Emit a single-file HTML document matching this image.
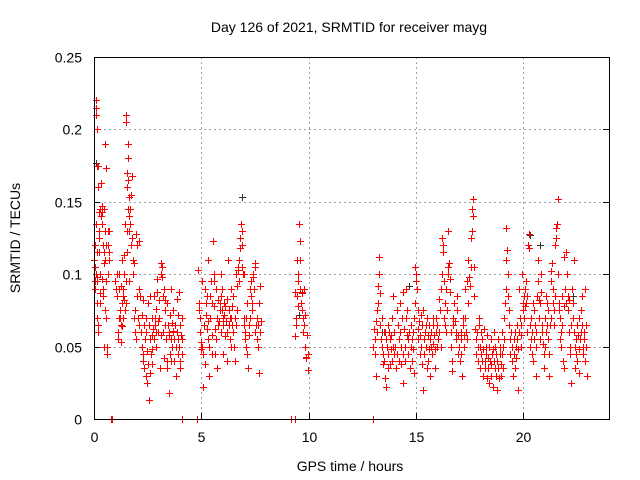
<!DOCTYPE html>
<html><head><meta charset="utf-8"><style>
body{margin:0;background:#fff}
svg{display:block;font-family:"Liberation Sans",sans-serif}
</style></head><body>
<svg id="chart" width="640" height="480" viewBox="0 0 640 480" shape-rendering="crispEdges">
<rect width="640" height="480" fill="#fff"/>
<text x="349" y="32" font-size="14" text-anchor="middle" fill="#000" shape-rendering="auto">Day 126 of 2021, SRMTID for receiver mayg</text>
<text x="20" y="238" font-size="14" text-anchor="middle" transform="rotate(-90 20 238)">SRMTID / TECUs</text>
<text x="350" y="471" font-size="14" text-anchor="middle">GPS time / hours</text>
<g id="grid"></g>
<g id="ticks"></g>
<g id="marks"></g>
<rect x="94.5" y="57.5" width="515" height="362" fill="none" stroke="#000" stroke-width="1"/>
</svg>
<script>
const xTicks=[0,5,10,15,20];
const yTicks=[0,0.05,0.1,0.15,0.2,0.25];
const yTickLabels=["0","0.05","0.1","0.15","0.2","0.25"];
const redA=[[0.02,0.11],[0.03,0.095],[0.04,0.12],[0.05,0.09],[0.06,0.105],[0.07,0.135],[0.08,0.1],[0.1,0.22],[0.1,0.215],[0.11,0.21],[0.12,0.2],[0.12,0.175],[0.13,0.115],[0.14,0.095],[0.15,0.098],[0.16,0.07],[0.17,0.065],[0.18,0.06],[0.2,0.16],[0.2,0.175],[0.22,0.143],[0.23,0.13],[0.25,0.125],[0.27,0.1],[0.28,0.087],[0.3,0.08],[0.3,0.145],[0.32,0.14],[0.33,0.163],[0.35,0.147],[0.37,0.135],[0.38,0.143],[0.4,0.12],[0.42,0.09],[0.43,0.085],[0.45,0.108],[0.47,0.115],[0.48,0.145],[0.5,0.13],[0.5,0.19],[0.52,0.11],[0.53,0.075],[0.55,0.07],[0.55,0.173],[0.57,0.12],[0.58,0.095],[0.6,0.05],[0.62,0.045],[0.63,0.13],[0.65,0.12],[0.66,0.1],[0.68,0.11],[0.7,0.115],[0.72,0.13],[0.25,0.115],[0.35,0.097],[0.15,0.08],[0.45,0.05]];
const redB=[[1.0,0.095],[1.02,0.09],[1.05,0.1],[1.08,0.085],[1.1,0.06],[1.12,0.055],[1.15,0.09],[1.18,0.1],[1.2,0.075],[1.22,0.07],[1.25,0.065],[1.28,0.053],[1.3,0.11],[1.32,0.08],[1.35,0.09],[1.37,0.085],[1.4,0.113],[1.42,0.1],[1.45,0.075],[1.45,0.135],[1.48,0.08],[1.5,0.21],[1.5,0.205],[1.52,0.115],[1.53,0.13],[1.55,0.16],[1.55,0.17],[1.57,0.19],[1.58,0.18],[1.6,0.165],[1.6,0.145],[1.62,0.095],[1.63,0.14],[1.65,0.13],[1.65,0.153],[1.68,0.145],[1.7,0.135],[1.72,0.12],[1.72,0.155],[1.75,0.125],[1.78,0.168],[1.8,0.11],[1.82,0.1],[1.85,0.07],[1.88,0.108],[1.9,0.075],[1.92,0.06],[1.95,0.055],[1.98,0.128],[2.0,0.12],[2.02,0.085],[2.05,0.07],[2.08,0.09],[2.1,0.123],[2.12,0.065],[2.15,0.085],[1.25,0.092],[1.35,0.07],[1.4,0.082],[1.5,0.095],[1.15,0.07],[1.3,0.064]];
const redC=[[2.2,0.06],[2.22,0.05],[2.25,0.072],[2.28,0.045],[2.3,0.04],[2.32,0.065],[2.35,0.035],[2.38,0.055],[2.4,0.03],[2.42,0.06],[2.45,0.025],[2.48,0.047],[2.5,0.08],[2.52,0.038],[2.55,0.013],[2.57,0.065],[2.6,0.032],[2.62,0.055],[2.65,0.045],[2.68,0.07],[2.7,0.058],[2.72,0.038],[2.75,0.062],[2.78,0.085],[2.8,0.055],[2.82,0.07],[2.85,0.065],[2.88,0.076],[2.9,0.05],[2.92,0.097],[2.95,0.088],[2.98,0.068],[3.0,0.06],[3.02,0.082],[3.05,0.07],[3.08,0.035],[3.1,0.1],[3.12,0.108],[3.15,0.105],[3.18,0.098],[3.2,0.085],[3.22,0.06],[3.25,0.042],[3.28,0.09],[3.3,0.075],[3.32,0.065],[3.35,0.055],[3.38,0.04],[3.4,0.035],[3.42,0.08],[3.45,0.065],[3.48,0.018],[3.5,0.058],[3.52,0.072],[3.55,0.045],[3.58,0.055],[3.6,0.09],[3.62,0.066],[3.65,0.05],[3.68,0.061],[3.7,0.075],[3.72,0.04],[3.75,0.055],[3.78,0.065],[3.8,0.05],[3.82,0.03],[3.85,0.083],[3.88,0.06],[3.9,0.045],[3.92,0.055],[3.95,0.088],[3.98,0.05],[4.0,0.065],[4.02,0.04],[4.05,0.058],[4.08,0.07],[4.1,0.045],[4.12,0.055],[2.4,0.07],[2.6,0.085],[2.9,0.06],[3.1,0.058],[3.3,0.082],[3.6,0.04],[3.9,0.072],[2.3,0.082],[2.7,0.048],[3.5,0.06],[3.7,0.06],[4.0,0.035]];
const redD=[[4.85,0.103],[4.88,0.08],[4.9,0.075],[4.92,0.07],[4.95,0.06],[4.98,0.053],[5.0,0.048],[5.02,0.095],[5.05,0.05],[5.08,0.045],[5.1,0.022],[5.12,0.065],[5.15,0.038],[5.18,0.09],[5.2,0.08],[5.22,0.072],[5.25,0.062],[5.28,0.085],[5.3,0.11],[5.32,0.068],[5.35,0.05],[5.38,0.03],[5.4,0.085],[5.42,0.07],[5.45,0.095],[5.48,0.058],[5.5,0.045],[5.52,0.08],[5.55,0.123],[5.58,0.1],[5.6,0.078],[5.62,0.062],[5.65,0.045],[5.68,0.055],[5.7,0.09],[5.72,0.035],[5.75,0.07],[5.78,0.082],[5.8,0.065],[5.82,0.068],[5.85,0.075],[5.88,0.08],[5.9,0.06],[5.92,0.085],[5.95,0.075],[5.98,0.09],[6.0,0.07],[6.02,0.065],[6.05,0.08],[6.08,0.072],[6.1,0.057],[6.12,0.078],[6.15,0.068],[6.18,0.06],[6.2,0.083],[6.22,0.04],[6.25,0.11],[6.28,0.075],[6.3,0.065],[6.32,0.07],[6.35,0.055],[6.38,0.05],[6.4,0.07],[6.42,0.078],[6.45,0.065],[6.48,0.06],[6.5,0.085],[6.52,0.05],[6.55,0.07],[6.58,0.04],[6.6,0.065],[6.62,0.1],[6.65,0.075],[6.68,0.092],[6.7,0.105],[6.72,0.103],[6.75,0.095],[6.78,0.11],[6.8,0.118],[6.82,0.125],[6.85,0.135],[6.9,0.13],[6.92,0.105],[6.95,0.1],[6.98,0.07],[7.0,0.065],[7.02,0.06],[7.05,0.055],[7.08,0.05],[7.1,0.07],[7.12,0.08],[7.15,0.045],[7.18,0.035],[7.2,0.058],[7.22,0.065],[7.25,0.07],[7.28,0.09],[7.3,0.095],[7.32,0.085],[7.35,0.075],[7.38,0.08],[7.4,0.1],[7.42,0.098],[7.45,0.09],[7.48,0.108],[7.5,0.105],[7.52,0.06],[7.55,0.065],[7.58,0.055],[7.6,0.07],[7.62,0.05],[7.65,0.065],[7.68,0.032],[7.7,0.08],[7.72,0.092],[7.75,0.06],[7.78,0.068],[5.9,0.1],[6.0,0.045],[6.4,0.09],[6.9,0.12],[7.0,0.1],[5.3,0.055],[5.6,0.095]];
const redE=[[9.35,0.088],[9.38,0.057],[9.4,0.065],[9.42,0.07],[9.45,0.11],[9.48,0.085],[9.5,0.095],[9.52,0.1],[9.55,0.135],[9.58,0.123],[9.6,0.11],[9.62,0.09],[9.65,0.08],[9.68,0.087],[9.7,0.075],[9.72,0.06],[9.75,0.07],[9.78,0.065],[9.8,0.09],[9.82,0.072],[9.85,0.05],[9.88,0.043],[9.9,0.042],[9.92,0.058],[9.95,0.034],[9.98,0.045],[9.5,0.078],[9.7,0.088]];
const redF=[[13.02,0.05],[13.05,0.062],[13.08,0.045],[13.1,0.055],[13.12,0.03],[13.15,0.068],[13.18,0.06],[13.2,0.075],[13.22,0.08],[13.25,0.092],[13.28,0.1],[13.3,0.112],[13.32,0.087],[13.35,0.065],[13.38,0.055],[13.4,0.07],[13.42,0.05],[13.45,0.045],[13.48,0.038],[13.5,0.06],[13.52,0.04],[13.55,0.028],[13.58,0.06],[13.6,0.055],[13.62,0.022],[13.65,0.05],[13.68,0.065],[13.7,0.045],[13.72,0.035],[13.75,0.06],[13.78,0.038],[13.8,0.055],[13.82,0.048],[13.85,0.058],[13.88,0.04],[13.9,0.07],[13.92,0.05],[13.95,0.085],[13.98,0.045],
[14.0,0.06],[14.05,0.05],[14.08,0.035],[14.1,0.075],[14.12,0.045],[14.15,0.065],[14.2,0.04],[14.22,0.055],[14.25,0.06],[14.28,0.08],[14.3,0.05],[14.32,0.038],[14.35,0.07],[14.38,0.045],[14.4,0.025],[14.42,0.088],[14.45,0.062],[14.48,0.05],[14.5,0.04],[14.52,0.09],[14.55,0.07],[14.58,0.058],[14.6,0.075],[14.62,0.045],[14.65,0.055],[14.7,0.06],[14.72,0.035],[14.75,0.05],[14.78,0.065],[14.8,0.04],[14.82,0.055],[14.85,0.048],[14.88,0.06],[14.9,0.032],[14.92,0.07],[14.95,0.105],[14.98,0.08],
[15.0,0.095],[15.02,0.1],[15.05,0.09],[15.08,0.075],[15.1,0.062],[15.12,0.055],[15.15,0.068],[15.18,0.045],[15.2,0.058],[15.22,0.072],[15.25,0.05],[15.28,0.038],[15.3,0.065],[15.32,0.02],[15.35,0.075],[15.38,0.055],[15.4,0.045],[15.42,0.06],[15.45,0.065],[15.48,0.05],[15.5,0.035],[15.52,0.07],[15.55,0.058],[15.58,0.04],[15.6,0.048],[15.62,0.065],[15.65,0.055],[15.68,0.03],[15.7,0.05],[15.72,0.06],[15.75,0.045],[15.78,0.07],[15.8,0.052],[15.82,0.065],[15.85,0.058],[15.88,0.035],[15.9,0.048],[15.92,0.06],[15.95,0.07],[15.98,0.05],
[16.0,0.065],[16.05,0.055],[16.08,0.083],[16.1,0.06],[16.12,0.075],[16.15,0.05],[16.18,0.09],[16.2,0.1],[16.22,0.125],[16.25,0.12],[16.28,0.115],[16.3,0.095],[16.32,0.07],[16.35,0.08],[16.38,0.065],[16.4,0.09],[16.42,0.06],[16.45,0.075],[16.48,0.105],[16.5,0.13],[16.52,0.1],[16.55,0.108],[16.58,0.097],[16.6,0.088],[16.62,0.06],[16.65,0.05],[16.68,0.04],[16.7,0.033],[16.72,0.065],[16.75,0.07],[16.78,0.08],[16.8,0.068],[16.85,0.06],[16.88,0.055],[16.9,0.075],[16.92,0.085],[16.95,0.045],[16.98,0.058],
[17.0,0.05],[17.05,0.04],[17.08,0.06],[17.1,0.055],[17.12,0.045],[17.15,0.03],[17.18,0.07],[17.2,0.065],[17.22,0.05],[17.25,0.058],[17.28,0.09],[17.3,0.07],[17.35,0.06],[17.38,0.055],[17.4,0.095],[17.42,0.11],[17.45,0.08],[17.48,0.098],[17.5,0.092],[17.55,0.105],[17.58,0.125],[17.6,0.13],[17.62,0.145],[17.65,0.152],[17.68,0.14],[17.7,0.105],[17.72,0.085],[17.75,0.062],[17.78,0.055],[17.8,0.045],[17.85,0.06],[17.88,0.05],[17.9,0.04],[17.92,0.065],[17.95,0.07],[17.98,0.035],
[18.0,0.05],[18.02,0.045],[18.05,0.06],[18.08,0.04],[18.1,0.055],[18.12,0.03],[18.15,0.048],[18.18,0.062],[18.2,0.04],[18.22,0.035],[18.25,0.05],[18.28,0.045],[18.3,0.028],[18.32,0.058],[18.35,0.042],[18.38,0.035],[18.4,0.05],[18.42,0.025],[18.45,0.04],[18.48,0.055],[18.5,0.038],[18.52,0.03],[18.55,0.045],[18.58,0.048],[18.6,0.022],[18.62,0.04],[18.65,0.06],[18.68,0.035],[18.7,0.05],[18.72,0.03],[18.75,0.045],[18.78,0.02],[18.8,0.04],[18.82,0.055],[18.85,0.035],[18.88,0.028],[18.9,0.045],[18.92,0.05],[18.95,0.038],[18.98,0.03],
[19.0,0.045],[19.02,0.06],[19.05,0.05],[19.08,0.035],[19.1,0.055],[19.12,0.07],[19.15,0.08],[19.18,0.09],[19.2,0.11],[19.22,0.132],[19.25,0.117],[19.28,0.1],[19.3,0.085],[19.32,0.075],[19.35,0.065],[19.38,0.055],[19.4,0.045],[19.45,0.06],[19.48,0.05],[19.5,0.04],[19.52,0.03],[19.55,0.055],[19.58,0.045],[19.6,0.035],[19.62,0.06],[19.65,0.05],[19.68,0.042],[19.7,0.065],[19.72,0.055],[19.75,0.048],[19.78,0.02],[19.8,0.06],[19.82,0.09],[19.85,0.07],[19.88,0.058],[19.9,0.065],[19.92,0.05],[19.95,0.1],[19.98,0.08],
[20.0,0.075],[20.02,0.085],[20.05,0.07],[20.08,0.09],[20.1,0.078],[20.12,0.095],[20.15,0.08],[20.18,0.085],[20.2,0.06],[20.22,0.12],[20.25,0.118],[20.28,0.128],[20.3,0.05],[20.32,0.065],[20.35,0.055],[20.38,0.07],[20.4,0.045],[20.42,0.06],[20.45,0.08],[20.48,0.04],[20.5,0.055],[20.52,0.075],[20.55,0.065],[20.58,0.05],[20.6,0.03],[20.62,0.06],[20.65,0.085],[20.68,0.11],[20.7,0.095],[20.72,0.082],[20.75,0.07],[20.78,0.08],[20.8,0.055],[20.82,0.1],[20.85,0.088],[20.88,0.065],[20.9,0.06],[20.92,0.052],[20.95,0.045],[20.98,0.035],
[21.0,0.05],[21.02,0.07],[21.05,0.06],[21.08,0.085],[21.1,0.08],[21.12,0.065],[21.15,0.075],[21.18,0.055],[21.2,0.045],[21.22,0.03],[21.25,0.065],[21.28,0.07],[21.3,0.095],[21.32,0.102],[21.35,0.108],[21.38,0.09],[21.4,0.08],[21.42,0.075],[21.45,0.065],[21.48,0.085],[21.5,0.12],[21.52,0.125],[21.55,0.132],[21.58,0.135],[21.6,0.152],[21.62,0.1],[21.65,0.08],[21.68,0.075],[21.7,0.07],[21.72,0.055],[21.75,0.06],[21.78,0.05],[21.8,0.085],[21.82,0.065],[21.85,0.04],[21.88,0.035],[21.9,0.078],[21.92,0.112],[21.95,0.09],[21.98,0.08],
[22.0,0.115],[22.05,0.1],[22.08,0.085],[22.1,0.075],[22.12,0.06],[22.15,0.082],[22.18,0.05],[22.2,0.045],[22.22,0.025],[22.25,0.065],[22.28,0.09],[22.3,0.08],[22.32,0.07],[22.35,0.11],[22.38,0.06],[22.4,0.035],[22.42,0.05],[22.45,0.045],[22.48,0.055],[22.5,0.065],[22.52,0.04],[22.55,0.058],[22.58,0.07],[22.6,0.048],[22.62,0.032],[22.65,0.055],[22.68,0.06],[22.7,0.075],[22.72,0.065],[22.75,0.085],[22.78,0.05],[22.8,0.045],[22.82,0.06],[22.85,0.055],[22.88,0.04],[22.9,0.09],[22.92,0.065],[22.95,0.05],[22.98,0.03]];
const grayPoints=[[0.1,0.177],[1.6,0.19],[6.88,0.153],[9.55,0.072],[13.4,0.06],[14.7,0.092],[17.6,0.13],[20.3,0.127],[20.8,0.12],[22.3,0.085]];
const zeroPoints=[[0.8,0],[0.85,0],[4.1,0],[4.78,0],[4.82,0],[9.2,0],[9.35,0],[13.0,0]];

const X0=94,X1=609,Y0=419,Y1=57,XMAX=24,YMAX=0.25;
function sx(t){return X0+(X1-X0)*t/XMAX;}
function sy(v){return Y0-(Y0-Y1)*v/YMAX;}
const NS='http://www.w3.org/2000/svg';
const grid=document.getElementById('grid'),ticks=document.getElementById('ticks'),marks=document.getElementById('marks');
function mk(tag,attrs,parent){const e=document.createElementNS(NS,tag);for(const k in attrs)e.setAttribute(k,attrs[k]);parent.appendChild(e);return e;}
xTicks.forEach(t=>{
  const x=Math.round(sx(t))+0.5;
  if(t>0){const g=mk('line',{x1:x,x2:x,y1:Y0,y2:Y1,stroke:'#a0a0a0','stroke-dasharray':'2,3'},grid);
  
  }
  const l=mk('line',{x1:x,x2:x,y1:Y0,y2:Y0-6,stroke:'#000'},ticks);
  
  
  const tx=mk('text',{x:x,y:442,'font-size':14,'text-anchor':'middle'},ticks);tx.textContent=String(t);
  
  
});
yTicks.forEach((v,i)=>{
  const y=Math.round(sy(v))+0.5;
  if(v>0&&v<YMAX){const g=mk('line',{x1:X0,x2:X1,y1:y,y2:y,stroke:'#a0a0a0','stroke-dasharray':'2,3'},grid);
  
  }
  const l=mk('line',{x1:X0,x2:X0+6,y1:y,y2:y,stroke:'#000'},ticks);
  
  
  const r=mk('line',{x1:X1,x2:X1-6,y1:y,y2:y,stroke:'#000'},ticks);
  
  
  const tx=mk('text',{x:82,y:y+5,'font-size':14,'text-anchor':'end'},ticks);tx.textContent=yTickLabels[i];
  
  
});
function plus(p,color,name){
  const x=Math.round(sx(p[0])),y=Math.round(sy(p[1]));
  const g=mk('g',{fill:color},marks);
  
  
  mk('rect',{x:x-3,y:y,width:7,height:1},g);
  mk('rect',{x:x,y:y-3,width:1,height:7},g);
}
grayPoints.forEach(p=>plus(p,'#333333','srmtid-point-alt'));
[redA,redB,redC,redD,redE,redF].forEach(s=>s.forEach(p=>plus(p,'#ff0000','srmtid-point')));
zeroPoints.forEach(p=>plus(p,'#ff0000','zero-point'));
</script>
</body></html>
